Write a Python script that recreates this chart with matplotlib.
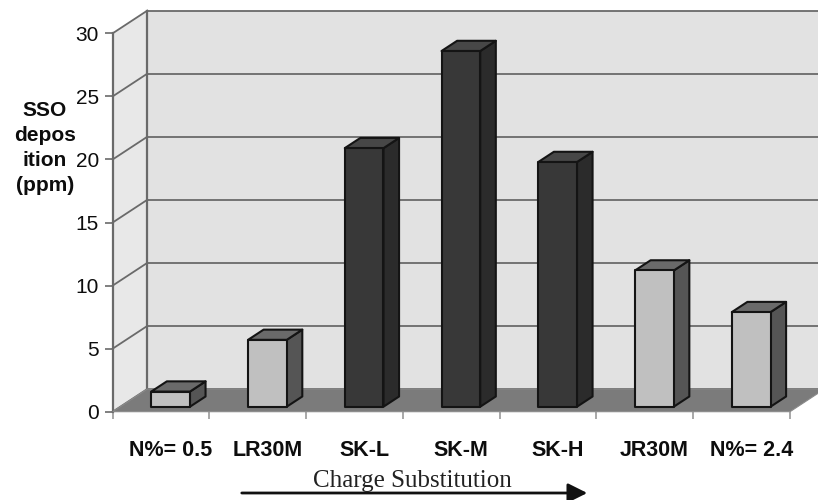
import matplotlib
matplotlib.use("Agg")
import matplotlib.pyplot as plt
from matplotlib.patches import Polygon, FancyArrowPatch
import numpy as np

# ---- data ----
categories = ["N%= 0.5", "LR30M", "SK-L", "SK-M", "SK-H", "JR30M", "N%= 2.4"]
values = [1.2, 5.3, 20.5, 28.2, 19.4, 10.8, 7.5]
group = ["plain", "plain", "SK", "SK", "SK", "plain", "plain"]
y_ticks = [0, 5, 10, 15, 20, 25, 30]
y_label = "SSO\ndepos\nition\n(ppm)"
x_title = "Charge Substitution"

# ---- style ----
W, H = 818, 500
fig = plt.figure(figsize=(W / 100, H / 100), dpi=100)
fig.patch.set_facecolor("white")
ax = fig.add_axes([112.7 / W, 88.3 / H, 677.3 / W, 378.4 / H])
n = len(categories)
ymax = 30
ax.set_xlim(-0.5, n - 0.5)
ax.set_ylim(0, ymax)
for s in ax.spines.values():
    s.set_visible(False)
ax.patch.set_visible(False)

# oblique depth offset in data units
DX, DY = 0.3576, 1.8
grid_c = "#6a6a6a"
wall_c = "#e2e2e2"
side_wall_c = "#e8e8e8"
floor_c = "#7b7b7b"
txt_c = "#0d0d0d"

x0, x1 = -0.5, n - 0.5
# back wall
ax.add_patch(Polygon([(x0 + DX, DY), (x1 + DX, DY), (x1 + DX, ymax + DY), (x0 + DX, ymax + DY)],
                     closed=True, facecolor=wall_c, edgecolor="none", clip_on=False, zorder=1))
# left wall
ax.add_patch(Polygon([(x0, 0), (x0 + DX, DY), (x0 + DX, ymax + DY), (x0, ymax)],
                     closed=True, facecolor=side_wall_c, edgecolor="none", clip_on=False, zorder=1))
# gridlines
for v in y_ticks:
    ax.plot([x0 + DX, x1 + DX], [v + DY, v + DY], color=grid_c, lw=1.3, clip_on=False, zorder=2)
    ax.plot([x0, x0 + DX], [v, v + DY], color=grid_c, lw=1.3, clip_on=False, zorder=2)
# wall edges
ax.plot([x0, x0], [0, ymax], color=grid_c, lw=1.6, clip_on=False, zorder=2)
ax.plot([x0 + DX, x0 + DX], [DY, ymax + DY], color=grid_c, lw=1.6, clip_on=False, zorder=2)
# floor
ax.add_patch(Polygon([(x0, 0), (x1, 0), (x1 + DX, DY), (x0 + DX, DY)],
                     closed=True, facecolor=floor_c, edgecolor="#8a8a8a", lw=0.8,
                     clip_on=False, zorder=3))

# bars
f0, f1 = 0.22, 0.67
bw = 0.40
shift = 0.02
colors = {
    "plain": ("#c0c0c0", "#6a6a6a", "#555555"),
    "SK": ("#383838", "#474747", "#2b2b2b"),
}
for i, (v, g) in enumerate(zip(values, group)):
    front, top, side = colors[g]
    ox0, oy0 = f0 * DX, f0 * DY
    ox1, oy1 = f1 * DX, f1 * DY
    l = i - bw / 2 + shift
    r = i + bw / 2 + shift
    kw = dict(closed=True, edgecolor="#141414", lw=1.5, joinstyle="round", clip_on=False, zorder=5)
    ax.add_patch(Polygon([(r + ox0, oy0), (r + ox1, oy1), (r + ox1, v + oy1), (r + ox0, v + oy0)],
                         facecolor=side, **kw))
    ax.add_patch(Polygon([(l + ox0, v + oy0), (r + ox0, v + oy0), (r + ox1, v + oy1), (l + ox1, v + oy1)],
                         facecolor=top, **kw))
    ax.add_patch(Polygon([(l + ox0, oy0), (r + ox0, oy0), (r + ox0, v + oy0), (l + ox0, v + oy0)],
                         facecolor=front, **kw))
    ax.text(i + f0 * DX + shift, -3.04, categories[i], ha="center", va="center",
            fontsize=15.5, fontweight="bold", family="Liberation Sans", color=txt_c)

# ticks
ax.set_yticks(y_ticks)
ax.set_yticklabels([str(t) for t in y_ticks], fontsize=15, family="Liberation Sans", color=txt_c)
ax.tick_params(axis="y", length=6, width=1.2, color=grid_c, pad=4)
ax.set_xticks(np.arange(-0.5, n, 1.0))
ax.set_xticklabels([])
ax.tick_params(axis="x", length=5, width=1.2, color="#9a9a9a", direction="out")

# y label
fig.text(45 / W, 1 - 148 / H, y_label, ha="center", va="center", multialignment="center",
         fontsize=15, fontweight="bold", family="Liberation Sans", linespacing=1.4, color=txt_c)

# x title with arrow
fig.text(412.5 / W, 1 - 481 / H, x_title, ha="center", va="center",
         fontsize=18, family="Liberation Serif", color="#222222")
fig.add_artist(FancyArrowPatch(
    (239 / W, 1 - 493 / H), (590 / W, 1 - 493 / H), transform=fig.transFigure,
    arrowstyle="-|>,head_length=9,head_width=4.5", mutation_scale=1.3, lw=2, color="#111111"))

fig.savefig("out.png", dpi=100, facecolor="white")
